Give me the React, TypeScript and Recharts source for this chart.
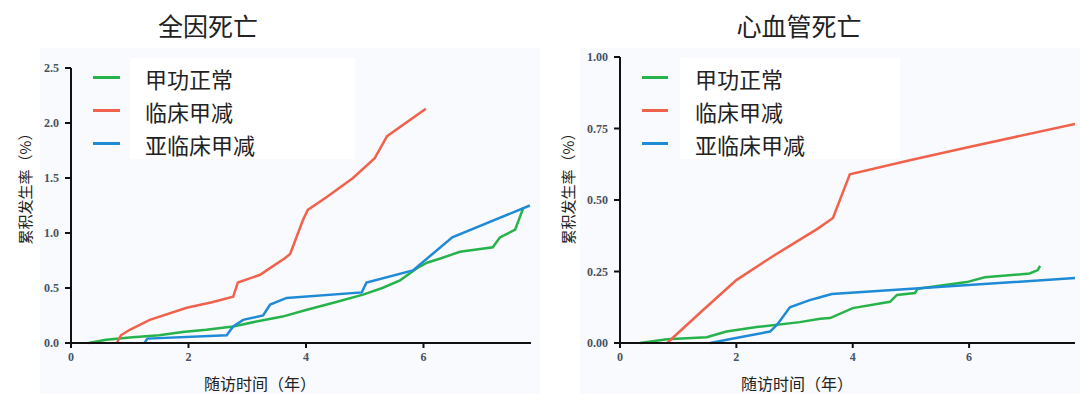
import React from 'react';
import { LineChart, Line, XAxis, YAxis } from 'recharts';

// ---- 全因死亡 (all-cause death) ----
const allNormalT = [0.3, 0.6, 1.0, 1.5, 1.9, 2.3, 2.76, 3.2, 3.6, 4.0, 4.5, 4.97, 5.3, 5.6, 5.89, 6.06, 6.3, 6.62, 7.18, 7.3, 7.56, 7.7];
const allNormalV = [0, 0.03, 0.05, 0.07, 0.1, 0.12, 0.15, 0.2, 0.24, 0.3, 0.37, 0.44, 0.5, 0.57, 0.68, 0.73, 0.77, 0.83, 0.87, 0.96, 1.03, 1.23];
const allClinicalT = [0.78, 0.85, 1.0, 1.34, 1.97, 2.4, 2.76, 2.84, 3.22, 3.33, 3.64, 3.73, 3.95, 4.03, 4.36, 4.8, 5.17, 5.38, 6.04];
const allClinicalV = [0, 0.07, 0.12, 0.21, 0.32, 0.37, 0.42, 0.55, 0.62, 0.66, 0.77, 0.81, 1.12, 1.21, 1.33, 1.5, 1.68, 1.88, 2.13];
const allSubT = [1.25, 1.3, 2.65, 2.76, 2.93, 3.27, 3.39, 3.67, 4.95, 5.03, 5.82, 6.49, 7.81];
const allSubV = [0, 0.04, 0.07, 0.15, 0.21, 0.25, 0.35, 0.41, 0.46, 0.55, 0.66, 0.96, 1.25];

// ---- 心血管死亡 (cardiovascular death) ----
const cvNormalT = [0.34, 0.81, 1.49, 1.83, 2.35, 3.09, 3.44, 3.61, 4.0, 4.64, 4.76, 5.07, 5.12, 5.96, 6.27, 7.04, 7.18, 7.22];
const cvNormalV = [0, 0.013, 0.02, 0.04, 0.056, 0.073, 0.085, 0.087, 0.122, 0.144, 0.168, 0.175, 0.19, 0.213, 0.23, 0.243, 0.255, 0.27];
const cvClinicalT = [0.81, 1.4, 2.0, 2.6, 3.0, 3.4, 3.66, 3.95, 5.0, 6.0, 7.82];
const cvClinicalV = [0, 0.11, 0.22, 0.3, 0.35, 0.4, 0.437, 0.59, 0.64, 0.685, 0.766];
const cvSubT = [1.55, 2.06, 2.58, 2.7, 2.92, 3.26, 3.44, 3.64, 7.82];
const cvSubV = [0, 0.02, 0.04, 0.064, 0.125, 0.15, 0.16, 0.171, 0.227];

const xTicks = [0, 2, 4, 6];
const allYTicks = [0, 0.5, 1.0, 1.5, 2.0, 2.5];
const cvYTicks = [0, 0.25, 0.5, 0.75, 1.0];

const seriesNames = ['甲功正常', '临床甲减', '亚临床甲减'];
const seriesColors = ['#27b34b', '#f0624c', '#1f8ad6'];
const titles = ['全因死亡', '心血管死亡'];
const xLabel = '随访时间（年）';
const yLabel = '累积发生率（%）';

const zip = (t: number[], v: number[]) => t.map((x, i) => ({ t: x, v: v[i] }));

const CJK = '"Noto Sans CJK SC", "Noto Sans", sans-serif';
const tickStyle = { fontFamily: '"Liberation Serif", serif', fontWeight: 700, fontSize: 12, fill: '#465264' };

const LegendBox = ({ x, y, lineW, gap, boxW }: { x: number; y: number; lineW: number; gap: number; boxW: number }) => (
  <div style={{ position: 'absolute', left: x, top: y }}>
    <div style={{ position: 'absolute', left: lineW + gap - 15, top: -3, width: boxW, height: 101, background: '#fff' }} />
    {seriesNames.map((n, i) => (
      <div key={n} style={{ position: 'relative', display: 'flex', alignItems: 'center', height: 33 }}>
        <div style={{ width: lineW, height: 3, background: seriesColors[i], marginRight: gap }} />
        <span style={{ fontFamily: CJK, fontSize: 22, color: '#222', lineHeight: 1 }}>{n}</span>
      </div>
    ))}
  </div>
);

type PanelProps = {
  x0: number;
  series: { t: number; v: number }[][];
  xMax: number;
  yMax: number;
  yTicks: number[];
  digits: number;
  yAxisWidth: number;
  top: number;
  right: number;
};

const Panel = ({ x0, series, xMax, yMax, yTicks, digits, yAxisWidth, top, right }: PanelProps) => (
  <div style={{ position: 'absolute', left: x0, top: 0 }}>
    <LineChart width={540} height={394} margin={{ top, right, bottom: 0, left: 0 }}>
      <XAxis
        type="number"
        dataKey="t"
        domain={[0, xMax]}
        ticks={xTicks}
        height={51}
        tick={tickStyle}
        tickSize={5}
        tickMargin={4}
        axisLine={{ stroke: '#111', strokeWidth: 2 }}
        tickLine={{ stroke: '#111', strokeWidth: 2 }}
        allowDataOverflow
      />
      <YAxis
        type="number"
        dataKey="v"
        domain={[0, yMax]}
        ticks={yTicks}
        width={yAxisWidth}
        tick={tickStyle}
        tickSize={6}
        tickMargin={6}
        tickFormatter={(v: number) => v.toFixed(digits)}
        axisLine={{ stroke: '#111', strokeWidth: 2 }}
        tickLine={{ stroke: '#111', strokeWidth: 2 }}
      />
      {series.map((d, i) => (
        <Line
          key={seriesNames[i]}
          data={d}
          dataKey="v"
          name={seriesNames[i]}
          stroke={seriesColors[i]}
          strokeWidth={2.5}
          dot={false}
          type="linear"
          isAnimationActive={false}
        />
      ))}
    </LineChart>
  </div>
);

const textDiv = (text: string, cx: number, cy: number, size: number, rotate = false) => (
  <div
    style={{
      position: 'absolute',
      left: cx,
      top: cy,
      transform: `translate(-50%, -50%)${rotate ? ' rotate(-90deg)' : ''}`,
      fontFamily: CJK,
      fontSize: size,
      color: '#222',
      whiteSpace: 'nowrap',
      lineHeight: 1,
    }}
  >
    {text}
  </div>
);

export default function App() {
  return (
    <div style={{ position: 'absolute', left: 0, top: 0, width: 1080, height: 394, background: '#fff', overflow: 'hidden' }}>
      <div style={{ position: 'absolute', left: 40, top: 48, width: 500, height: 346, background: '#f9fafd' }} />
      <div style={{ position: 'absolute', left: 580, top: 48, width: 500, height: 346, background: '#f9fafd' }} />
      <Panel
        x0={0}
        series={[zip(allNormalT, allNormalV), zip(allClinicalT, allClinicalV), zip(allSubT, allSubV)]}
        xMax={7.83}
        yMax={2.5}
        yTicks={allYTicks}
        digits={1}
        yAxisWidth={71}
        top={68}
        right={9}
      />
      <Panel
        x0={540}
        series={[zip(cvNormalT, cvNormalV), zip(cvClinicalT, cvClinicalV), zip(cvSubT, cvSubV)]}
        xMax={7.82}
        yMax={1.0}
        yTicks={cvYTicks}
        digits={2}
        yAxisWidth={80}
        top={57}
        right={5}
      />
      <LegendBox x={93} y={61} lineW={27} gap={25} boxW={225} />
      <LegendBox x={642} y={61} lineW={26} gap={27} boxW={220} />
      {textDiv(titles[0], 208, 25, 25)}
      {textDiv(titles[1], 799, 25, 25)}
      {textDiv(xLabel, 260, 383, 16)}
      {textDiv(xLabel, 797, 383, 16)}
      {textDiv(yLabel, 24, 185, 15, true)}
      {textDiv(yLabel, 567, 185, 15, true)}
    </div>
  );
}
